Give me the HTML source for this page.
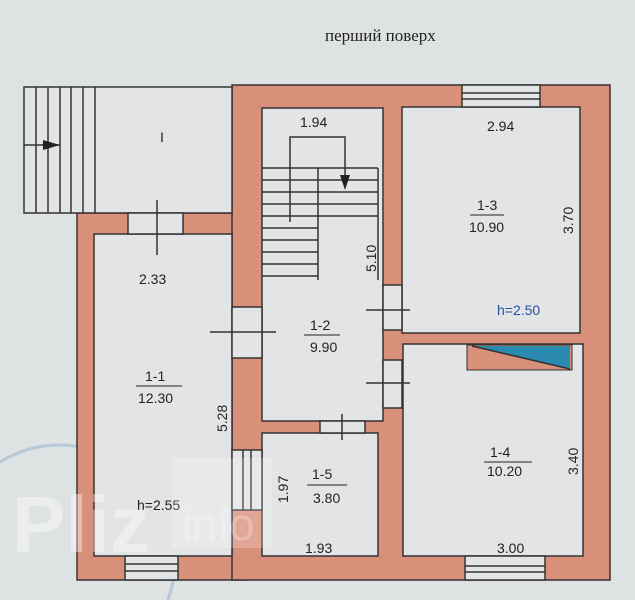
<!DOCTYPE html>
<html><head><meta charset="utf-8"><style>
html,body{margin:0;width:635px;height:600px;overflow:hidden;background:#dfe2e3}
svg{display:block}
text{font-family:"Liberation Sans",sans-serif;font-size:14px;fill:#222}
</style></head><body>
<svg width="635" height="600" viewBox="0 0 635 600">
<rect width="635" height="600" fill="#dfe2e3"/>
<text x="325" y="41" style="font-family:'Liberation Serif',serif;font-size:17px">перший поверх</text>
<circle cx="60" cy="560" r="115" fill="none" stroke="#8fb0cf" stroke-width="3" opacity="0.5"/>
<g fill="#d9907a" stroke="#333" stroke-width="1.5">
<rect x="77" y="213" width="170" height="367"/>
<rect x="232" y="85" width="378" height="495"/>
</g>
<g fill="#e2e4e5" stroke="#333" stroke-width="1.5">
<rect x="94" y="234" width="138" height="322"/>
<rect x="262" y="108" width="121" height="313"/>
<rect x="402" y="107" width="178" height="226"/>
<rect x="403" y="344" width="180" height="212"/>
<rect x="262" y="433" width="116" height="123"/>
<rect x="24" y="87" width="208" height="126"/>
<rect x="128" y="213" width="55" height="21"/>
<rect x="232" y="307" width="30" height="51"/>
<rect x="383" y="285" width="19" height="45"/>
<rect x="383" y="360" width="19" height="48"/>
<rect x="320" y="421" width="45" height="12"/>
<rect x="232" y="450" width="30" height="60"/>
<rect x="462" y="85" width="78" height="22"/>
<rect x="465" y="556" width="80" height="24"/>
<rect x="125" y="556" width="53" height="24"/>
</g>
<g stroke="#333" stroke-width="1.5">
<line x1="462" y1="93" x2="540" y2="93"/><line x1="462" y1="99" x2="540" y2="99"/>
<line x1="465" y1="566" x2="545" y2="566"/><line x1="465" y1="572" x2="545" y2="572"/>
<line x1="125" y1="564" x2="178" y2="564"/><line x1="125" y1="571" x2="178" y2="571"/>
<line x1="243" y1="450" x2="243" y2="510"/><line x1="251" y1="450" x2="251" y2="510"/>
<line x1="36" y1="87" x2="36" y2="213"/><line x1="48" y1="87" x2="48" y2="213"/>
<line x1="60" y1="87" x2="60" y2="213"/><line x1="71" y1="87" x2="71" y2="213"/>
<line x1="83" y1="87" x2="83" y2="213"/><line x1="95" y1="87" x2="95" y2="213"/>
<line x1="24" y1="145" x2="60" y2="145"/>
<line x1="157" y1="200" x2="157" y2="255"/>
<line x1="210" y1="332" x2="276" y2="332"/>
<line x1="366" y1="310" x2="410" y2="310"/>
<line x1="366" y1="383" x2="410" y2="383"/>
<line x1="342" y1="414" x2="342" y2="440"/>
<polyline fill="none" points="290,222 290,137 345,137 345,175"/>
<line x1="318" y1="168" x2="318" y2="280"/>
<line x1="378" y1="168" x2="378" y2="280"/>
<line x1="262" y1="168" x2="378" y2="168"/>
<line x1="262" y1="180" x2="378" y2="180"/><line x1="262" y1="192" x2="378" y2="192"/>
<line x1="262" y1="204" x2="378" y2="204"/><line x1="262" y1="216" x2="378" y2="216"/>
<line x1="262" y1="228" x2="318" y2="228"/><line x1="262" y1="240" x2="318" y2="240"/>
<line x1="262" y1="252" x2="318" y2="252"/><line x1="262" y1="264" x2="318" y2="264"/>
<line x1="262" y1="276" x2="318" y2="276"/>
</g>
<polygon points="43,140 60,145 43,150" fill="#222"/>
<polygon points="340,175 350,175 345,190" fill="#222"/>
<rect x="467" y="345" width="105" height="25" fill="#d9907a" stroke="#333"/>
<polygon points="472,346 570,346 570,369" fill="#2a8ab0"/>
<line x1="472" y1="346" x2="570" y2="369" stroke="#333" stroke-width="1.5"/>
<text x="160" y="142" font-size="15">I</text>
<text x="139" y="284">2.33</text>
<text x="300" y="127">1.94</text>
<text x="487" y="131">2.94</text>
<text x="477" y="210">1-3</text>
<line x1="470" y1="215" x2="504" y2="215" stroke="#222"/>
<text x="469" y="232">10.90</text>
<text transform="translate(573,234) rotate(-90)">3.70</text>
<text x="497" y="315" style="fill:#2850a0">h=2.50</text>
<text transform="translate(376,272) rotate(-90)">5.10</text>
<text x="310" y="330">1-2</text>
<line x1="304" y1="335" x2="340" y2="335" stroke="#222"/>
<text x="310" y="352">9.90</text>
<text x="145" y="381">1-1</text>
<line x1="136" y1="386" x2="182" y2="386" stroke="#222"/>
<text x="138" y="403">12.30</text>
<text transform="translate(227,432) rotate(-90)">5.28</text>
<text x="137" y="510">h=2.55</text>
<text x="312" y="479">1-5</text>
<line x1="307" y1="485" x2="347" y2="485" stroke="#222"/>
<text x="313" y="503">3.80</text>
<text transform="translate(288,503) rotate(-90)">1.97</text>
<text x="305" y="553">1.93</text>
<text x="490" y="457">1-4</text>
<line x1="484" y1="462" x2="532" y2="462" stroke="#222"/>
<text x="487" y="476">10.20</text>
<text transform="translate(578,475) rotate(-90)">3.40</text>
<text x="497" y="553">3.00</text>
<g opacity="0.4">
<text x="12" y="552" style="font-size:80px;font-weight:bold;fill:#fff">Pliz</text>
<rect x="172" y="458" width="100" height="90" fill="#fff" opacity="0.5"/>
<text x="182" y="540" style="font-size:45px;fill:#fff">info</text>
</g>
</svg>
</body></html>
